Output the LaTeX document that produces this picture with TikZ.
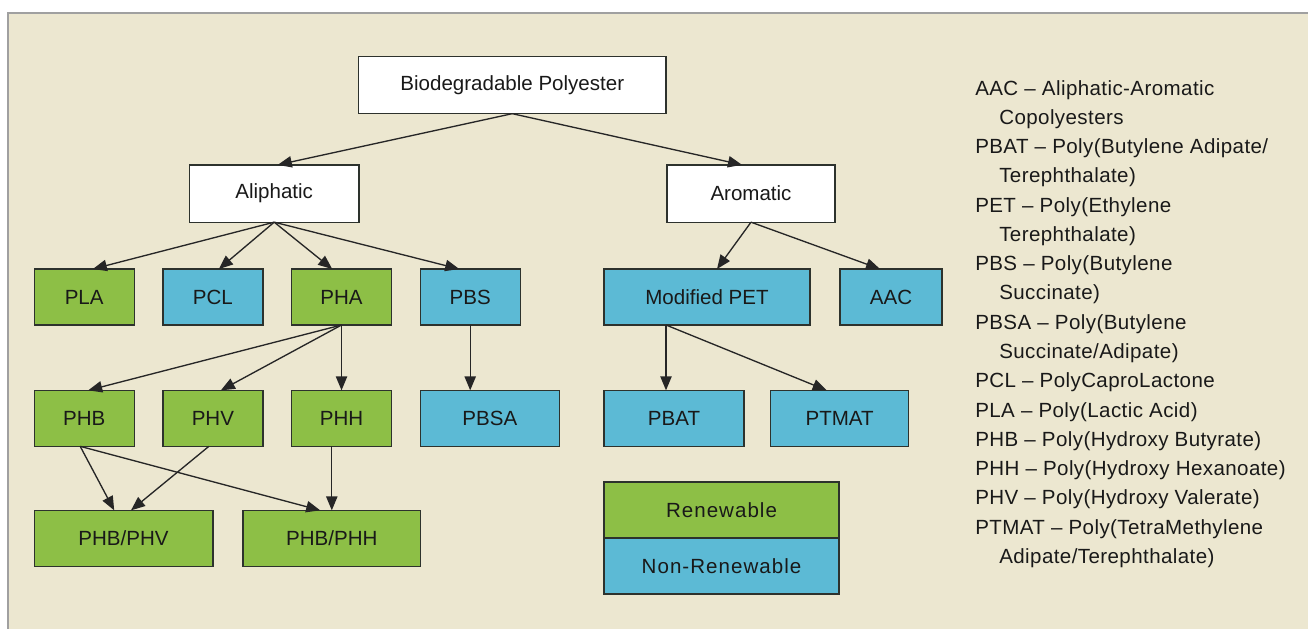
\documentclass[tikz,border=0pt]{standalone}
\usepackage{fontspec}
\setmainfont{Liberation Sans}
\newfontfamily\deffont{Liberation Sans}[LetterSpace=2]
\newfontfamily\keyfont{Liberation Sans}[LetterSpace=5]
\usepackage{tikz}
\usetikzlibrary{positioning,arrows.meta,calc}

\definecolor{panelbg}{RGB}{236,231,208}
\definecolor{panelrule}{RGB}{160,160,160}
\definecolor{rengreen}{RGB}{141,191,70}
\definecolor{nonblue}{RGB}{92,186,213}
\definecolor{boxline}{RGB}{45,50,45}

\begin{document}
\begin{tikzpicture}[
            x=0.75pt, y=-0.75pt,
            font=\fontsize{15.4}{18}\selectfont,
            >={Triangle[length=10.5pt,width=8.5pt]},
            node distance=49pt and 21.5pt,
            box/.style={
                    draw=boxline, line width=1pt, outer sep=0pt, inner sep=2pt,
                    minimum width=75pt, minimum height=42pt,
                    align=center, text=black!90
                },
            head/.style={box, fill=white, minimum height=43pt},
            ren/.style={box, fill=rengreen},
            nonren/.style={box, fill=nonblue},
            arr/.style={->, line width=1pt, black!85},
            defline/.style={anchor=base west, inner sep=0pt, text=black!90,
                    font=\deffont\fontsize{15.4}{18}\selectfont},
            ]

            % panel behind the chart
            \useasboundingbox (0,0) rectangle (1308,628);
            \draw[panelrule, fill=panelbg, line width=1.2pt] (8,13) rectangle (1316,636);

            \node[head, minimum width=230.5pt] (bp) at (512.3,85) {Biodegradable Polyester};
            \node[head, minimum width=127.2pt] (ali) at (274.2,193.5) {Aliphatic};
            \node[head, minimum width=126pt] (aro) at (751,193.5) {Aromatic};

            % first row
            \node[ren] (pla) at (84.2,297) {PLA};
            \node[nonren, right=of pla] (pcl) {PCL};
            \node[ren, right=of pcl] (pha) {PHA};
            \node[nonren, right=of pha] (pbs) {PBS};
            \node[nonren, minimum width=154.5pt] (mpet) at (707,297) {Modified PET};
            \node[nonren, minimum width=76.5pt, right=22.5pt of mpet] (aac) {AAC};

            % second row
            \node[ren, below=of pla] (phb) {PHB};
            \node[ren, below=of pcl] (phv) {PHV};
            \node[ren, below=of pha] (phh) {PHH};
            \node[nonren, minimum width=104.5pt, below=of pbs.south west, anchor=north west] (pbsa) {PBSA};
            \node[nonren, minimum width=105pt, below=of mpet.south west, anchor=north west] (pbat) {PBAT};
            \node[nonren, minimum width=103.5pt, right=20pt of pbat] (ptmat) {PTMAT};

            % blends
            \node[ren, minimum width=134pt, below=48pt of phb.south west, anchor=north west] (phbv) {PHB/PHV};
            \node[ren, minimum width=133pt, right=22.7pt of phbv] (phbh) {PHB/PHH};

            % key
            \node[ren, minimum width=176.25pt, font=\keyfont\fontsize{15.4}{18}\selectfont] (lren) at (721.5,510) {Renewable};
            \node[nonren, minimum width=176.25pt, below=0pt of lren, font=\keyfont\fontsize{15.4}{18}\selectfont] (lnon) {Non-Renewable};

            % abbreviations
            \foreach \ind/\txt [count=\i from 0] in {
                    0/{AAC – Aliphatic-Aromatic}, 1/{Copolyesters},
                    0/{PBAT – Poly(Butylene Adipate/}, 1/{Terephthalate)},
                    0/{PET – Poly(Ethylene}, 1/{Terephthalate)},
                    0/{PBS – Poly(Butylene}, 1/{Succinate)},
                    0/{PBSA – Poly(Butylene}, 1/{Succinate/Adipate)},
                    0/{PCL – PolyCaproLactone},
                    0/{PLA – Poly(Lactic Acid)},
                    0/{PHB – Poly(Hydroxy Butyrate)},
                    0/{PHH – Poly(Hydroxy Hexanoate)},
                    0/{PHV – Poly(Hydroxy Valerate)},
                    0/{PTMAT – Poly(TetraMethylene}, 1/{Adipate/Terephthalate)}}
                \node[defline] (def\i) at (975+24*\ind, 95+29.28*\i) {\txt};

            \coordinate (mpetout) at ($(mpet.south -| pbat.north)+(-6pt,0)$);

            \draw[arr] (bp.south) -- ([xshift=2.7pt]ali.north);
            \draw[arr] (bp.south) -- ([xshift=-6.75pt]aro.north);
            \draw[arr] (ali.south) -- ([xshift=6.5pt]pla.north);
            \draw[arr] (ali.south) -- ([xshift=4.5pt]pcl.north);
            \draw[arr] (ali.south) -- ([xshift=-7pt]pha.north);
            \draw[arr] (ali.south) -- ([xshift=-8.25pt]pbs.north);
            \draw[arr] (aro.south) -- ([xshift=7.5pt]mpet.north);
            \draw[arr] (aro.south) -- ([xshift=-8.25pt]aac.north);
            \draw[arr] (pha.south) -- ([xshift=3pt]phb.north);
            \draw[arr] (pha.south) -- ([xshift=6pt]phv.north);
            \draw[arr] (pha.south) -- (phh.north);
            \draw[arr] (pbs.south) -- (pbs.south |- pbsa.north);
            \draw[arr] (mpetout) -- (mpetout |- pbat.north);
            \draw[arr] (mpetout) -- ([xshift=-9.75pt]ptmat.north);
            \draw[arr] ([xshift=-3pt]phb.south) -- ([xshift=-7pt]phbv.north);
            \draw[arr] ([xshift=-3pt]phb.south) -- ([xshift=-8.7pt]phbh.north);
            \draw[arr] ([xshift=-3pt]phv.south) -- ([xshift=5.6pt]phbv.north);
            \draw[arr] (phh.south -| phbh.north) -- (phbh.north);
        \end{tikzpicture}
\end{document}
